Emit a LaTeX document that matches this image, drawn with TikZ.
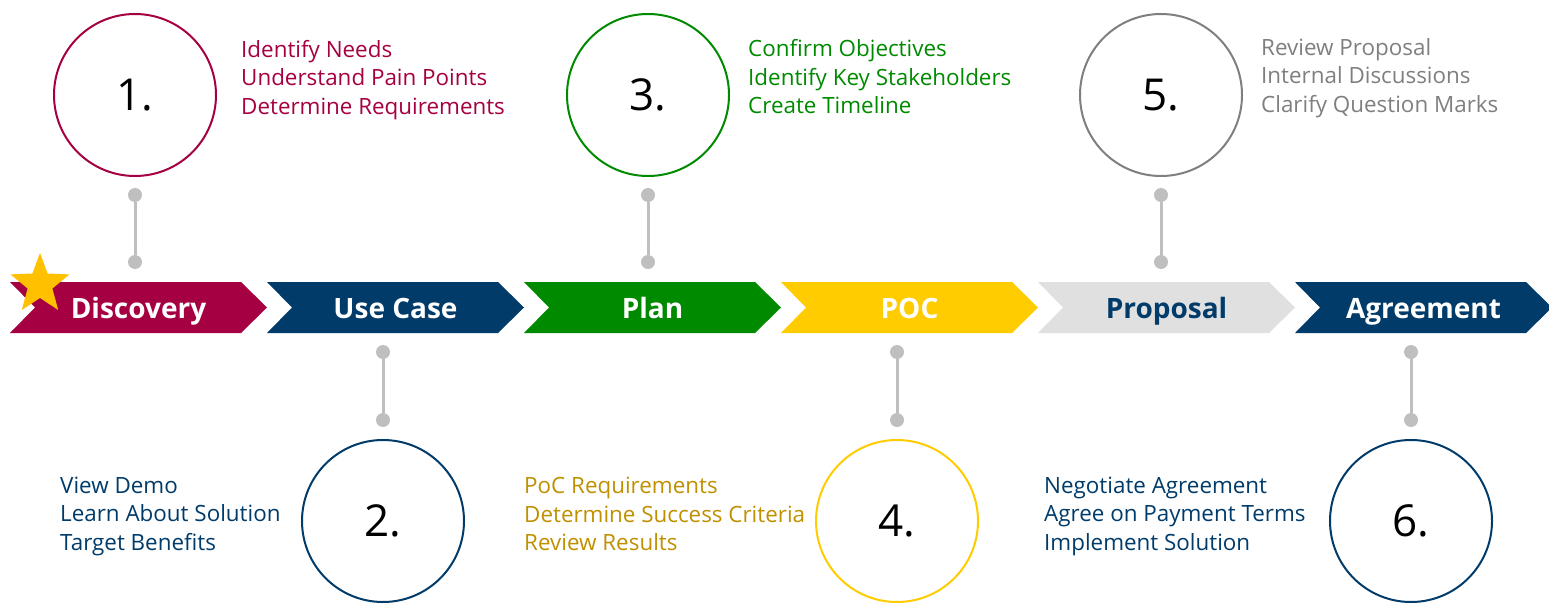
\documentclass[tikz,border=0pt]{standalone}
\usepackage{fontspec}
\setmainfont{Open Sans}
\definecolor{crim}{HTML}{A50041}
\definecolor{navy}{HTML}{003B6A}
\definecolor{grn}{HTML}{008A00}
\definecolor{yel}{HTML}{FFCC00}
\definecolor{gold}{HTML}{BF9000}
\definecolor{lgray}{HTML}{E0E0E0}
\definecolor{dgray}{HTML}{7F7F7F}
\definecolor{cgray}{HTML}{BFBFBF}
\definecolor{stary}{HTML}{FFC000}
\newcommand\chevshape[2]{%
  \fill[#2] (#1,282) -- ++(231,0) -- ++(26,25.5) -- ++(-26,25.5) -- ++(-231,0) -- ++(25,-25.5) -- cycle;}
\begin{document}
\begin{tikzpicture}[x=1pt,y=-1pt,
  circ/.style={circle,line width=2pt,minimum size=162pt,inner sep=0pt,font=\fontsize{44}{50}\selectfont,text=black},
  dotn/.style={circle,fill=cgray,minimum size=14pt,inner sep=0pt},
  conn/.style={cgray,line width=3pt},
  lbl/.style={anchor=base,inner sep=0pt,font=\fontsize{28}{32}\selectfont\bfseries},
  lst/.style={anchor=west,align=left,inner sep=0pt,font=\fontsize{22.4}{28.5}\selectfont}]
\useasboundingbox (0,0) rectangle (1549,604);
% chevrons
\chevshape{10}{crim}
\chevshape{267}{navy}
\chevshape{524}{grn}
\chevshape{781}{yel}
\chevshape{1038}{lgray}
\chevshape{1295}{navy}
\node[lbl,text=white] (s1) at (138.5,318) {Discovery};
\node[lbl,text=white] (s2) at (395.5,318) {Use Case};
\node[lbl,text=white] (s3) at (652.5,318) {Plan};
\node[lbl,text=white] (s4) at (909.5,318) {POC};
\node[lbl,text=navy] (s5) at (1166.5,318) {Proposal};
\node[lbl,text=white] (s6) at (1423.5,318) {Agreement};
% star
\fill[stary] (40,253) -- (32.4,273.5) -- (10.5,274.4) -- (27.6,288.5) -- (21.8,310)
  -- (40,298) -- (58.2,310) -- (52.4,288.5) -- (69.5,274.4) -- (47.6,273.5) -- cycle;
% circles
\node[circ,draw=crim] (c1) at (135,95) {1.};
\node[circ,draw=navy] (c2) at (383,521) {2.};
\node[circ,draw=grn] (c3) at (648,95) {3.};
\node[circ,draw=yel] (c4) at (897,521) {4.};
\node[circ,draw=dgray] (c5) at (1161,95) {5.};
\node[circ,draw=navy] (c6) at (1411,521) {6.};
% connectors
\foreach \n/\x in {1/135,3/648,5/1161}{
  \node[dotn] (a\n) at (\x,195) {};
  \node[dotn] (b\n) at (\x,262) {};
  \draw[conn] (a\n) -- (b\n);
}
\foreach \n/\x in {2/383,4/897,6/1411}{
  \node[dotn] (a\n) at (\x,352) {};
  \node[dotn] (b\n) at (\x,420) {};
  \draw[conn] (a\n) -- (b\n);
}
% lists
\node[lst,text=crim] (t1) at (241,80) {Identify Needs\\Understand Pain Points\\Determine Requirements};
\node[lst,text=grn] (t3) at (748,77) {Confirm Objectives\\Identify Key Stakeholders\\Create Timeline};
\node[lst,text=dgray] (t5) at (1261,78) {Review Proposal\\Internal Discussions\\Clarify Question Marks};
\node[lst,text=navy] (t2) at (60,516) {View Demo\\Learn About Solution\\Target Benefits};
\node[lst,text=gold] (t4) at (524,514) {PoC Requirements\\Determine Success Criteria\\Review Results};
\node[lst,text=navy] (t6) at (1044,516) {Negotiate Agreement\\Agree on Payment Terms\\Implement Solution};
\end{tikzpicture}
\end{document}
